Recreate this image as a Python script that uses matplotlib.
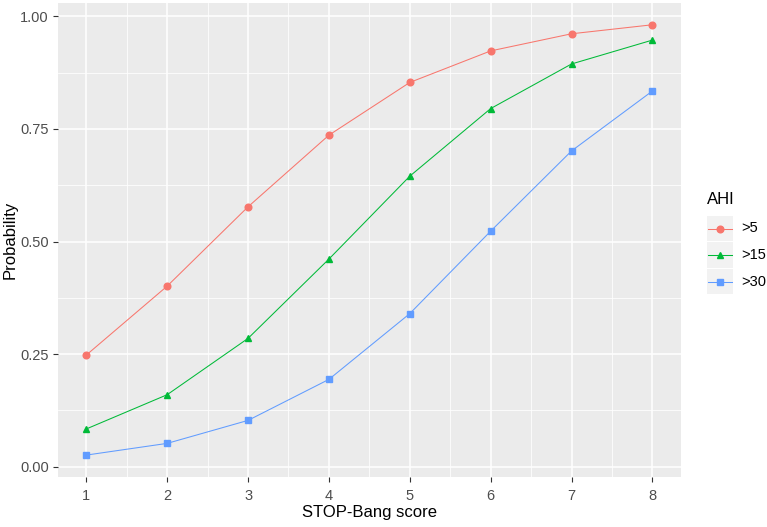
import matplotlib
matplotlib.use("Agg")
import matplotlib.pyplot as plt
from matplotlib.lines import Line2D
from matplotlib.patches import Rectangle
from matplotlib.ticker import MultipleLocator, FormatStrFormatter

plt.rcParams['font.family'] = ['Liberation Sans', 'DejaVu Sans']

# STOP-Bang score vs predicted probability for each AHI cut-off
score = [1, 2, 3, 4, 5, 6, 7, 8]
p_ahi5 = [0.248, 0.401, 0.577, 0.736, 0.853, 0.923, 0.961, 0.981]
p_ahi15 = [0.084, 0.160, 0.285, 0.461, 0.645, 0.795, 0.894, 0.947]
p_ahi30 = [0.026, 0.052, 0.103, 0.194, 0.340, 0.523, 0.701, 0.834]
labels = ['>5', '>15', '>30']
colors = ['#F8766D', '#00BA38', '#619CFF']
markers = ['o', '^', 's']

W, H = 767, 527
fig = plt.figure(figsize=(W / 100, H / 100), dpi=100)
ax = fig.add_axes([0.0756, 0.0954, 0.8119, 0.8995])
ax.set_facecolor('#EBEBEB')

for ys, c, m in zip([p_ahi5, p_ahi15, p_ahi30], colors, markers):
    ax.plot(score, ys, color=c, lw=0.75, marker=m, ms=4.8, mec=c, mfc=c, zorder=3)

ax.set_xlim(0.65, 8.35)
ax.set_ylim(-0.022, 1.03)
ax.xaxis.set_major_locator(MultipleLocator(1))
ax.xaxis.set_minor_locator(MultipleLocator(0.5))
ax.yaxis.set_major_locator(MultipleLocator(0.25))
ax.yaxis.set_minor_locator(MultipleLocator(0.125))
ax.yaxis.set_major_formatter(FormatStrFormatter('%.2f'))

ax.grid(which='major', color='white', lw=1.1)
ax.grid(which='minor', color='white', lw=0.55)
ax.set_axisbelow(True)
for s in ax.spines.values():
    s.set_visible(False)
ax.tick_params(which='major', length=3.5, width=0.8, color='#333333',
               labelsize=10.5, labelcolor='#4D4D4D', pad=3)
ax.tick_params(axis='x', which='major', pad=5)
ax.tick_params(which='minor', length=0)

ax.set_xlabel('STOP-Bang score', fontsize=12, labelpad=2)
ax.set_ylabel('Probability', fontsize=12, labelpad=2)

# legend drawn by hand (ggplot style grey key boxes), positions in pixels
def fx(px):
    return px / W

def fy(py):
    return 1 - py / H

fig.text(fx(707), fy(200), 'AHI', fontsize=12, va='center', ha='left')
key_top = 216
key_h = 26.5
for i, (lab, c, m) in enumerate(zip(labels, colors, markers)):
    top = key_top + i * key_h
    cy = top + 12.5
    fig.add_artist(Rectangle((fx(707), fy(top + 25)), fx(26), 25 / H,
                             transform=fig.transFigure, facecolor='#F2F2F2',
                             edgecolor='none'))
    fig.add_artist(Line2D([fx(708), fx(732)], [fy(cy), fy(cy)],
                          transform=fig.transFigure, color=c, lw=0.75))
    fig.add_artist(Line2D([fx(720)], [fy(cy)], transform=fig.transFigure,
                          color=c, marker=m, ms=4.8, mec=c, mfc=c, lw=0))
    fig.text(fx(741), fy(cy), lab, fontsize=10.5, va='center', ha='left')

fig.savefig('out.png', dpi=100)
